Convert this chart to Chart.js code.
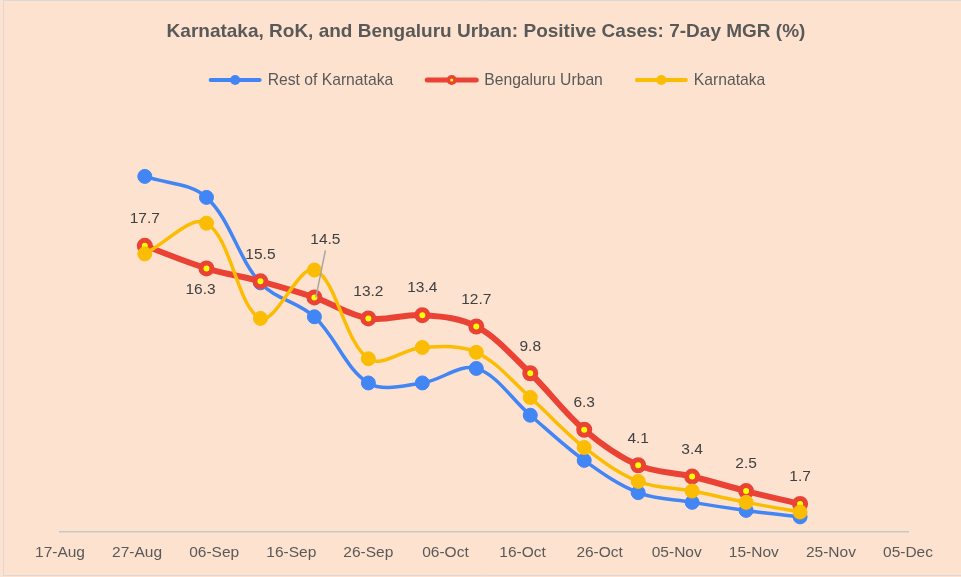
<!DOCTYPE html>
<html>
<head>
<meta charset="utf-8">
<title>Karnataka, RoK, and Bengaluru Urban: Positive Cases: 7-Day MGR (%)</title>
<script src="https://cdn.jsdelivr.net/npm/chart.js@4.4.1/dist/chart.umd.min.js"></script>
<style>
  html, body { margin: 0; padding: 0; background: #ffffff; }
  #box { width: 961px; height: 577px; }
</style>
</head>
<body>
<div id="box"><canvas id="mgrChart" width="961" height="577"></canvas></div>
<script>
// Weekly points (2020) and 7-day MGR values
const weekDates = ['2020-08-28', '2020-09-05', '2020-09-12', '2020-09-19', '2020-09-26', '2020-10-03',
                   '2020-10-10', '2020-10-17', '2020-10-24', '2020-10-31', '2020-11-07', '2020-11-14', '2020-11-21'];
const restOfKarnataka = [22.0, 20.7, 15.4, 13.3, 9.2, 9.2, 10.1, 7.2, 4.4, 2.4, 1.8, 1.3, 0.9];
const bengaluruUrban  = [17.7, 16.3, 15.5, 14.5, 13.2, 13.4, 12.7, 9.8, 6.3, 4.1, 3.4, 2.5, 1.7];
const karnataka       = [17.2, 19.1, 13.2, 16.2, 10.7, 11.4, 11.1, 8.3, 5.2, 3.1, 2.5, 1.8, 1.2];

// x axis runs 17-Aug .. 05-Dec, a label every 10 days
const axisStart = '2020-08-17';
const axisEnd = '2020-12-05';
const tickStepDays = 10;

const titleText = 'Karnataka, RoK, and Bengaluru Urban: Positive Cases: 7-Day MGR (%)';
const FONT = '"Liberation Sans", Arial, sans-serif';
const MONTHS = ['Jan', 'Feb', 'Mar', 'Apr', 'May', 'Jun', 'Jul', 'Aug', 'Sep', 'Oct', 'Nov', 'Dec'];
const DAY = 86400000;

function toMs(s) {
    const p = s.split('-').map(Number);
    return Date.UTC(p[0], p[1] - 1, p[2]);
}
function dayOffset(s) {
    return Math.round((toMs(s) - toMs(axisStart)) / DAY);
}
function fmtDay(v) {
    const d = new Date(toMs(axisStart) + v * DAY);
    return String(d.getUTCDate()).padStart(2, '0') + '-' + MONTHS[d.getUTCMonth()];
}
function toPoints(values) {
    return values.map((v, i) => ({ x: dayOffset(weekDates[i]), y: v }));
}

// label tweaks for the Bengaluru Urban values (default: centred above the marker)
const labelShift = { 1: [-6, 21], 3: [11, -58] };
const calloutIndex = 3;

// page background + thin frame
const backdrop = {
    id: 'backdrop',
    beforeDraw(chart) {
        const ctx = chart.ctx;
        ctx.save();
        ctx.fillStyle = '#FDE3CF';
        ctx.fillRect(0, 0, chart.width, chart.height);
        ctx.strokeStyle = '#D9D9D9';
        ctx.lineWidth = 1;
        ctx.beginPath();
        ctx.moveTo(chart.width, 0.5);
        ctx.lineTo(3.5, 0.5);
        ctx.lineTo(3.5, 575.5);
        ctx.lineTo(chart.width, 575.5);
        ctx.stroke();
        ctx.restore();
    }
};

// title and legend, drawn by hand so they sit like the Excel original
const header = {
    id: 'header',
    afterDraw(chart) {
        const ctx = chart.ctx;
        const cx = 486;
        ctx.save();
        ctx.fillStyle = '#595959';
        ctx.font = 'bold 19px ' + FONT;
        ctx.textAlign = 'center';
        ctx.textBaseline = 'middle';
        ctx.fillText(titleText, cx, 32);

        ctx.font = '15.7px ' + FONT;
        ctx.textAlign = 'left';
        const lineW = 53, gapText = 6, gapItem = 32, ly = 80;
        const items = chart.data.datasets.map(ds => ({ ds, w: ctx.measureText(ds.label).width }));
        let total = 0;
        items.forEach((it, i) => { total += lineW + gapText + it.w + (i ? gapItem : 0); });
        let x = cx - total / 2 + 1;
        items.forEach(it => {
            const ds = it.ds;
            ctx.strokeStyle = ds.borderColor;
            ctx.lineWidth = ds.legendLine;
            ctx.lineCap = 'round';
            ctx.beginPath();
            ctx.moveTo(x + 2, ly);
            ctx.lineTo(x + lineW - 2, ly);
            ctx.stroke();
            ctx.beginPath();
            ctx.arc(x + lineW / 2, ly, 5, 0, Math.PI * 2);
            ctx.fillStyle = ds.borderColor;
            ctx.fill();
            if (ds.pointBackgroundColor !== ds.borderColor) {
                ctx.beginPath();
                ctx.arc(x + lineW / 2, ly, 1.6, 0, Math.PI * 2);
                ctx.fillStyle = ds.pointBackgroundColor;
                ctx.fill();
            }
            ctx.fillStyle = '#595959';
            ctx.fillText(ds.label, x + lineW + gapText, ly + 1);
            x += lineW + gapText + it.w + gapItem;
        });
        ctx.restore();
    }
};

// value labels on the Bengaluru Urban series
const valueLabels = {
    id: 'valueLabels',
    afterDatasetsDraw(chart) {
        const ctx = chart.ctx;
        const meta = chart.getDatasetMeta(1);
        const values = chart.data.datasets[1].data;
        ctx.save();
        ctx.font = '15.5px ' + FONT;
        ctx.fillStyle = '#404040';
        ctx.textAlign = 'center';
        ctx.textBaseline = 'middle';
        meta.data.forEach((pt, i) => {
            const s = labelShift[i] || [0, -27];
            if (i === calloutIndex) {
                ctx.strokeStyle = '#A6A6A6';
                ctx.lineWidth = 1.5;
                ctx.beginPath();
                ctx.moveTo(pt.x + s[0], pt.y + s[1] + 11);
                ctx.lineTo(pt.x + 1.5, pt.y);
                ctx.stroke();
            }
            ctx.fillText(values[i].y.toFixed(1), pt.x + s[0], pt.y + s[1]);
        });
        ctx.restore();
    }
};

const ctx = document.getElementById('mgrChart').getContext('2d');
const mgrChart = new Chart(ctx, {
    type: 'line',
    data: {
        datasets: [{
            label: 'Rest of Karnataka',
            data: toPoints(restOfKarnataka),
            borderColor: '#4285F4',
            backgroundColor: '#4285F4',
            pointBackgroundColor: '#4285F4',
            pointBorderColor: '#4285F4',
            borderWidth: 3.5,
            pointRadius: 7,
            pointBorderWidth: 1,
            tension: 0.35,
            legendLine: 4,
            order: 3
        }, {
            label: 'Bengaluru Urban',
            data: toPoints(bengaluruUrban),
            borderColor: '#EA4335',
            backgroundColor: '#EA4335',
            pointBackgroundColor: '#FFFF00',
            pointBorderColor: '#EA4335',
            borderWidth: 6,
            pointRadius: 5.5,
            pointBorderWidth: 5,
            tension: 0.35,
            legendLine: 5,
            order: 2
        }, {
            label: 'Karnataka',
            data: toPoints(karnataka),
            borderColor: '#FBBC04',
            backgroundColor: '#FBBC04',
            pointBackgroundColor: '#FBBC04',
            pointBorderColor: '#FBBC04',
            borderWidth: 3.5,
            pointRadius: 7,
            pointBorderWidth: 1,
            tension: 0.35,
            legendLine: 4,
            order: 1
        }]
    },
    options: {
        responsive: false,
        animation: false,
        layout: { padding: { left: 60, right: 53, top: 128, bottom: 3 } },
        plugins: {
            legend: { display: false },
            title: { display: false },
            tooltip: { enabled: false }
        },
        scales: {
            x: {
                type: 'linear',
                min: dayOffset(axisStart),
                max: dayOffset(axisEnd),
                grid: { display: false, drawTicks: false },
                border: { display: true, color: '#C8C8C8', width: 1.5 },
                ticks: {
                    stepSize: tickStepDays,
                    autoSkip: false,
                    maxRotation: 0,
                    padding: 12,
                    color: '#595959',
                    font: { family: FONT, size: 15.5 },
                    callback: v => fmtDay(v)
                }
            },
            y: {
                display: false,
                min: 0,
                max: 25
            }
        }
    },
    plugins: [backdrop, header, valueLabels]
});
</script>
</body>
</html>
